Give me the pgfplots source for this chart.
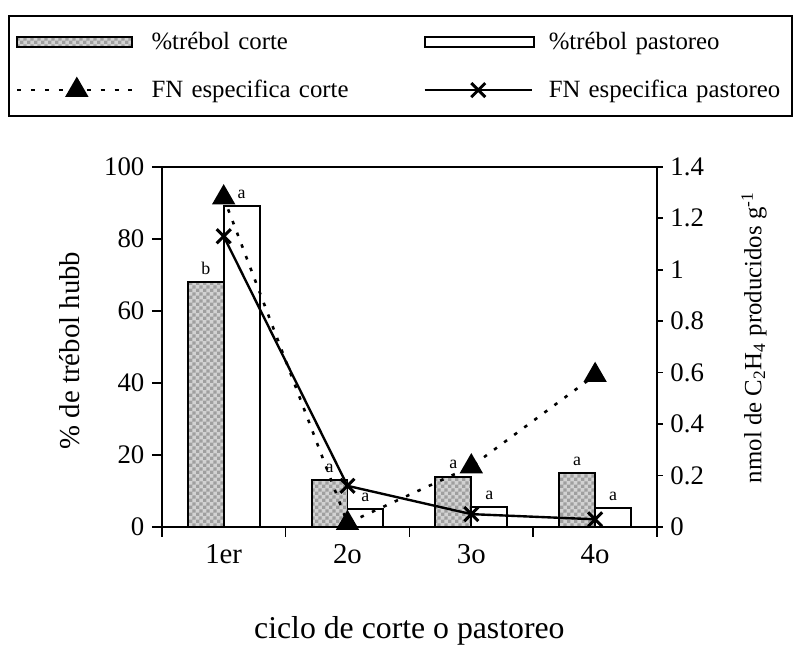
\documentclass[border=0pt]{standalone}
\usepackage{pgfplots}
\pgfplotsset{compat=1.18}
\usetikzlibrary{patterns}
\usepackage{fontspec}
\setmainfont{Liberation Serif}
\pgfdeclarepatternformonly{finechecker}{\pgfqpoint{0pt}{0pt}}{\pgfqpoint{3.4pt}{3.4pt}}{\pgfqpoint{3.4pt}{3.4pt}}{%
  \pgfpathrectangle{\pgfqpoint{0pt}{0pt}}{\pgfqpoint{1.7pt}{1.7pt}}%
  \pgfpathrectangle{\pgfqpoint{1.7pt}{1.7pt}}{\pgfqpoint{1.7pt}{1.7pt}}%
  \pgfusepath{fill}}
\pgfplotsset{
  legbarA/.style={legend image code/.code={\draw[##1] (0pt,-2.6pt) rectangle (58pt,2.6pt);}},
  legbarB/.style={legend image code/.code={\draw[##1] (0pt,-2.6pt) rectangle (55pt,2.6pt);}},
  leglineA/.style={legend image code/.code={\draw[mark repeat=2,mark phase=2,##1,sharp plot] plot coordinates {(0pt,0pt) (30pt,0pt) (60pt,0pt)};}},
  leglineB/.style={legend image code/.code={\draw[mark repeat=2,mark phase=2,##1,sharp plot] plot coordinates {(0pt,0pt) (27pt,0pt) (54pt,0pt)};}},
}
\begin{document}
\begin{tikzpicture}
\pgfplotsset{
  /pgf/number format/assume math mode=true,
  every axis/.append style={
    scale only axis, width=249.5pt, height=181.5pt,
    xmin=-0.5, xmax=3.5,
    tick align=outside,
    tick label style={font=\fontsize{13.5}{15}\selectfont},
    label style={font=\fontsize{14.5}{16}\selectfont},
    line width=0.9pt,
    every tick/.style={black, line width=0.9pt},
  },
}
\begin{axis}[name=main,
  ybar, bar width=0.29,
  ymin=0, ymax=100,
  ytick={0,20,40,60,80,100}, ytick pos=left,
  major tick length=5pt,
  xtick={-0.5,0.5,1.5,2.5,3.5}, xticklabels={}, xtick pos=bottom,
  extra x ticks={0,1,2,3}, extra x tick labels={1er,2o,3o,4o},
  extra x tick style={major tick length=0pt, tick label style={font=\fontsize{14.5}{16}\selectfont, yshift=-5pt}},
  ylabel={\% de trébol hubb},
  ylabel style={at={(axis description cs:-0.186,0.49)}, anchor=center},
  xlabel={ciclo de corte o pastoreo},
  xlabel style={at={(axis description cs:0.5,-0.287)}, anchor=center, font=\fontsize{16}{18}\selectfont},
  legend columns=2,
  legend style={at={(axis description cs:-0.3106,1.4215)}, anchor=north west,
    draw=black, line width=1.1pt, font=\fontsize{12.5}{15}\selectfont,
    inner xsep=3.5pt, inner ysep=6pt, row sep=10pt,
    /tikz/every even column/.append style={column sep=18pt, text width=117pt, inner xsep=1pt, align=left},
    /tikz/every odd column/.append style={column sep=5pt}},
  nodes near coords style={font=\fontsize{9}{10}\selectfont, black},
]
\addlegendimage{draw=black, line width=1pt, fill=gray!35, postaction={pattern=finechecker, pattern color=gray!75}, legbarA}
\addlegendentry{\mbox{\%trébol corte}}
\addlegendimage{draw=black, line width=1pt, fill=white, legbarB}
\addlegendentry{\mbox{\%trébol pastoreo}}
\addlegendimage{black, line width=1.3pt, dash pattern=on 2pt off 5pt, mark=triangle*, mark size=5.5pt, mark options={solid}, leglineA}
\addlegendentry{\mbox{FN especifica corte}}
\addlegendimage{black, line width=1.2pt, mark=x, mark size=5pt, mark options={solid, line width=1.5pt}, leglineB}
\addlegendentry{\mbox{FN especifica pastoreo}}
% % trébol corte
\addplot[bar shift=-0.145, draw=black, line width=1pt, fill=gray!35,
  postaction={pattern=finechecker, pattern color=gray!75},
  nodes near coords, point meta=explicit symbolic, forget plot]
  coordinates {(0,68) [b] (1,13) [a] (2,14) [a] (3,15) [a]};
% % trébol pastoreo
\addplot[bar shift=0.145, draw=black, line width=1pt, fill=white,
  nodes near coords, point meta=explicit symbolic, forget plot]
  coordinates {(0,89) [a] (1,5) [a] (2,5.5) [a] (3,5.2) [a]};
\end{axis}
\begin{axis}[
  ymin=0, ymax=1.4,
  axis x line=none, axis y line*=right,
  ytick={0,0.2,0.4,0.6,0.8,1,1.2,1.4},
  major tick length=3pt,
  ylabel={nmol de C\textsubscript{2}H\textsubscript{4} producidos g\textsuperscript{-1}},
  ylabel style={at={(axis description cs:1.196,0.526)}, anchor=center, font=\fontsize{12.5}{14}\selectfont},
]
\addplot[black, line width=1.3pt, dash pattern=on 1.8pt off 4.5pt, mark=triangle*, mark size=5.5pt, mark options={solid}]
  coordinates {(0,1.28) (1,0.015) (2,0.235) (3,0.59)};
\addplot[black, line width=1.2pt, mark=x, mark size=5pt, mark options={solid, line width=1.5pt}]
  coordinates {(0,1.13) (1,0.16) (2,0.05) (3,0.03)};
\end{axis}
\path ([shift={(-81.5pt,-62.5pt)}]main.south west) rectangle ([shift={(65.5pt,84pt)}]main.north east);
\end{tikzpicture}
\end{document}
